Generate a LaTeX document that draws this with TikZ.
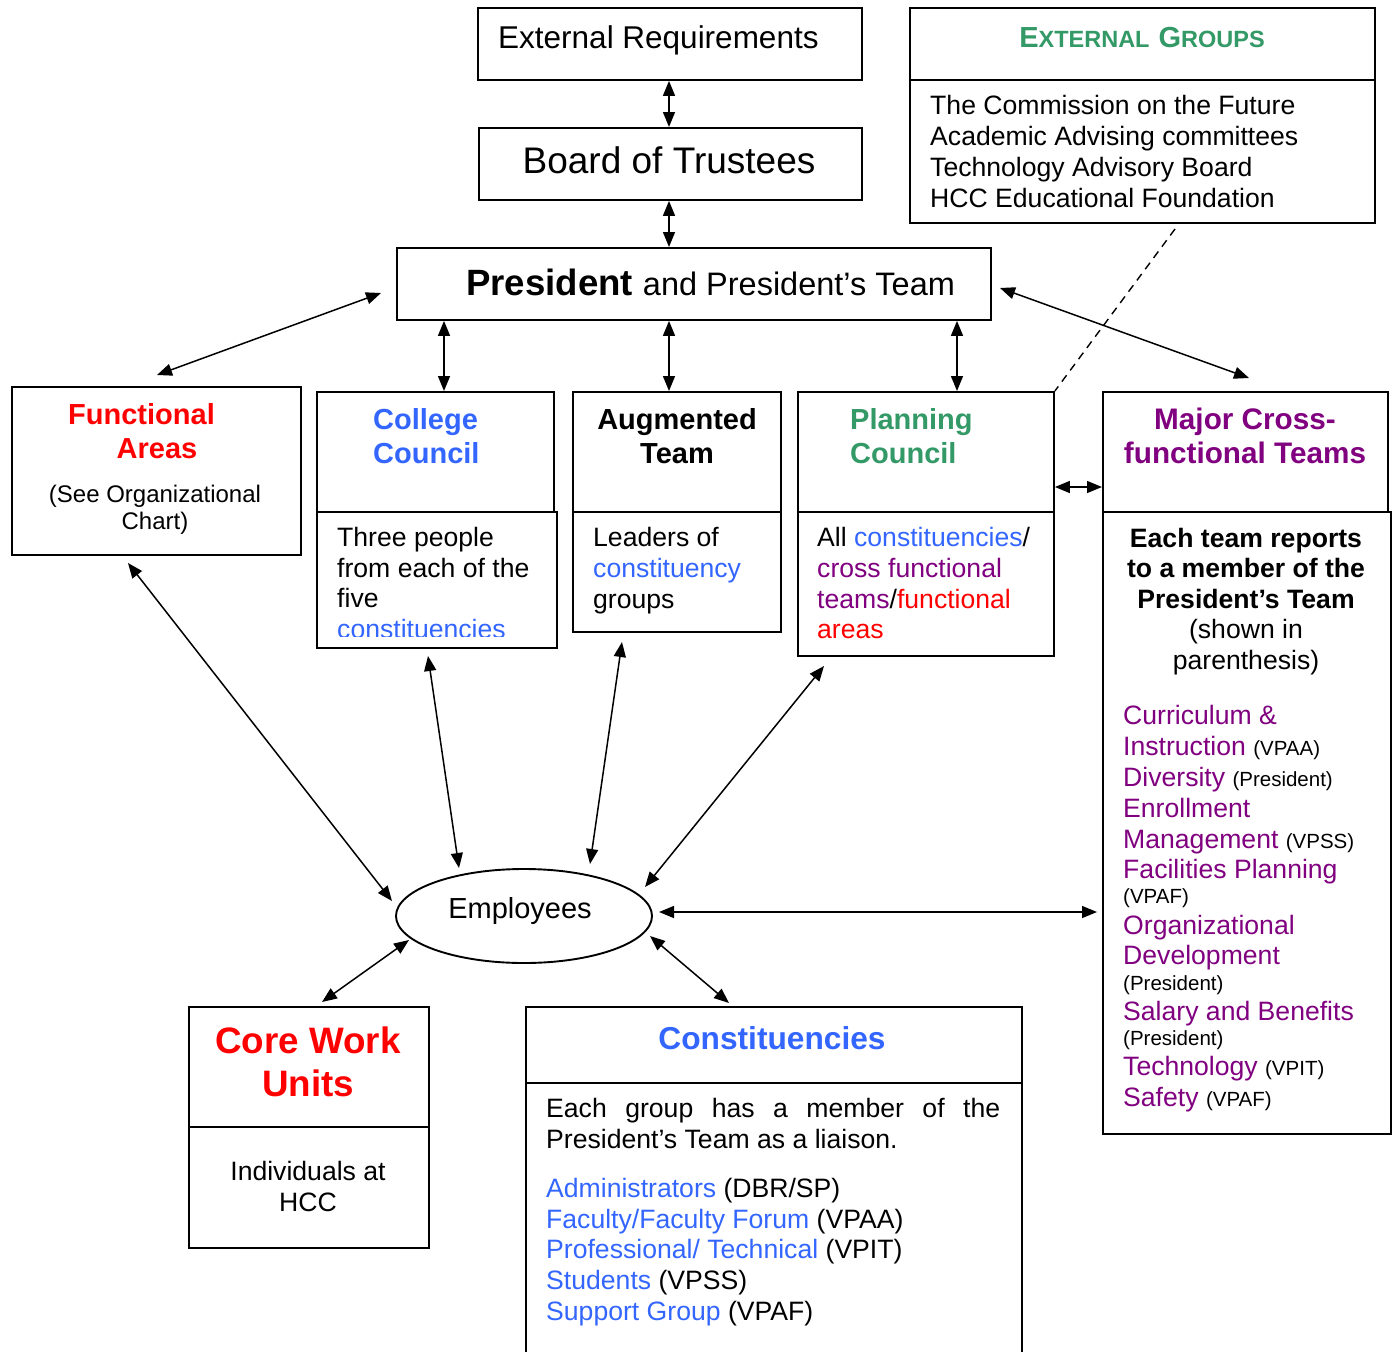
\documentclass[tikz,border=0pt]{standalone}
\usepackage{fontspec}
\setmainfont{Liberation Sans}
\usetikzlibrary{arrows.meta,shapes.geometric}
\definecolor{cred}{HTML}{FF0000}
\definecolor{cblue}{HTML}{3366FF}
\definecolor{cpurple}{HTML}{800080}
\definecolor{cgreen}{HTML}{339966}
\newcommand\fbody{\fontsize{26.6}{31}\selectfont}
\newcommand\fhead{\fontsize{29}{34}\selectfont\bfseries}
\newcommand\fsml{\fontsize{20.5}{24}\selectfont}
\newcommand\fsee{\fontsize{24}{27}\selectfont}
\begin{document}
\begin{tikzpicture}[x=1pt,y=-1pt,
  box/.style={draw, line width=1.9pt, inner sep=0pt, anchor=north west},
  conn/.style={{Triangle[length=15pt,width=12pt]}-{Triangle[length=15pt,width=12pt]}, line width=1.5pt},
  tl/.style={inner sep=0pt, anchor=base west, font=\fbody},
  tc/.style={inner sep=0pt, anchor=base, font=\fbody},
  hl/.style={inner sep=0pt, anchor=base west, font=\fhead},
  hc/.style={inner sep=0pt, anchor=base, font=\fhead}]
\useasboundingbox (0,0) rectangle (1393,1352);
\fill[white] (0,0) rectangle (1393,1352);
\begin{scope}
\clip (0,0) rectangle (1393,1352);
% ---------- boxes ----------
\node[box, minimum width=384pt, minimum height=72pt] (er) at (477,7) {};
\node[box, minimum width=383pt, minimum height=72pt] (bt) at (478,127) {};
\node[box, minimum width=594pt, minimum height=72pt] (pres) at (396,247) {};
\node[box, minimum width=465pt, minimum height=72pt] (egh) at (909,7) {};
\node[box, minimum width=465pt, minimum height=143pt] (egb) at (909,79) {};
\node[box, minimum width=289pt, minimum height=168pt] (fa) at (11,386) {};
\node[box, minimum width=237pt, minimum height=120pt] (cch) at (316,391) {};
\node[box, minimum width=240pt, minimum height=136pt] (ccb) at (316,511) {};
\node[box, minimum width=208pt, minimum height=120pt] (ath) at (572,391) {};
\node[box, minimum width=208pt, minimum height=120pt] (atb) at (572,511) {};
\node[box, minimum width=256pt, minimum height=120pt] (pch) at (797,391) {};
\node[box, minimum width=256pt, minimum height=144pt] (pcb) at (797,511) {};
\node[box, minimum width=285pt, minimum height=120pt] (mch) at (1102,391) {};
\node[box, minimum width=288pt, minimum height=622pt] (mcb) at (1102,511) {};
\node[box, minimum width=240pt, minimum height=120pt] (cwh) at (188,1006) {};
\node[box, minimum width=240pt, minimum height=121pt] (cwb) at (188,1126) {};
\node[box, minimum width=496pt, minimum height=76pt] (coh) at (525,1006) {};
\node[box, minimum width=496pt, minimum height=300pt] (cob) at (525,1082) {};
\node[draw, ellipse, line width=1.9pt, inner sep=0pt, minimum width=256pt, minimum height=94pt] (emp) at (524,916) {};
% ---------- texts ----------
\node[tl, font=\fontsize{31.5}{36}\selectfont] (ert) at (498,48) {External Requirements};
\node[tc, font=\fontsize{37}{42}\selectfont] (btt) at (669,173) {Board of Trustees};
\node[tl] (prt) at (466,295) {{\fontsize{36.6}{42}\selectfont\bfseries President}\hspace{10pt}{\fontsize{32.5}{37}\selectfont and President's Team}};
\node[tc, text=cgreen, font=\bfseries] (egt) at (1142,47) {{\fontsize{29}{34}\selectfont E}{\fontsize{23.5}{28}\selectfont XTERNAL}\hspace{9pt}{\fontsize{29}{34}\selectfont G}{\fontsize{23.5}{28}\selectfont ROUPS}};
\node[tl] (eg1) at (930,114.5) {The Commission on the Future};
\node[tl] (eg2) at (930,145.5) {Academic Advising committees};
\node[tl] (eg3) at (930,176.5) {Technology Advisory Board};
\node[tl] (eg4) at (930,207.5) {HCC Educational Foundation};
% functional areas
\node[hc, text=cred] (fa1) at (141.5,424) {Functional};
\node[hc, text=cred] (fa2) at (157,458) {Areas};
\node[tc, font=\fsee] (fa3) at (155,502.5) {(See Organizational};
\node[tc, font=\fsee] (fa4) at (155,529.5) {Chart)};
% college council
\node[hl, text=cblue] (cc1) at (373,429) {College};
\node[hl, text=cblue] (cc2) at (373,463) {Council};
\begin{scope}
\clip (316,511) rectangle (556,636.5);
\node[tl] (cc3) at (337,546.5) {Three people};
\node[tl] (cc4) at (337,577) {from each of the};
\node[tl] (cc5) at (337,607.5) {five};
\node[tl, text=cblue] (cc6) at (337,638.5) {constituencies};
\end{scope}
% augmented team
\node[hc] (at1) at (677,429) {Augmented};
\node[hc] (at2) at (677,463) {Team};
\node[tl] (at3) at (593,546.5) {Leaders of};
\node[tl, text=cblue] (at4) at (593,577.5) {constituency};
\node[tl] (at5) at (593,608.5) {groups};
% planning council
\node[hl, text=cgreen] (pc1) at (850,429) {Planning};
\node[hl, text=cgreen] (pc2) at (850,463) {Council};
\node[tl] (pc3) at (817,546.5) {All \textcolor{cblue}{constituencies}/};
\node[tl, text=cpurple] (pc4) at (817,577.5) {cross functional};
\node[tl] (pc5) at (817,608.5) {\textcolor{cpurple}{teams}/\textcolor{cred}{functional}};
\node[tl, text=cred] (pc6) at (817,638.5) {areas};
% major cross-functional teams
\node[hc, text=cpurple, font=\fontsize{29.7}{34}\selectfont\bfseries] (mc1) at (1245,429) {Major Cross-};
\node[hc, text=cpurple, font=\fontsize{29.7}{34}\selectfont\bfseries] (mc2) at (1245,463) {functional Teams};
\node[tc, font=\fbody\bfseries] (mc3) at (1246,547) {Each team reports};
\node[tc, font=\fbody\bfseries] (mc4) at (1246,577.5) {to a member of the};
\node[tc, font=\fbody\bfseries] (mc5) at (1246,608.5) {President's Team};
\node[tc] (mc6) at (1246,638.5) {(shown in};
\node[tc] (mc7) at (1246,669.5) {parenthesis)};
\node[tl, text=cpurple] (ml1) at (1123,724.5) {Curriculum \&};
\node[tl, text=cpurple] (ml2) at (1123,755.5) {Instruction \textcolor{black}{\fsml(VPAA)}};
\node[tl, text=cpurple] (ml3) at (1123,786.5) {Diversity \textcolor{black}{\fsml(President)}};
\node[tl, text=cpurple] (ml4) at (1123,817.5) {Enrollment};
\node[tl, text=cpurple] (ml5) at (1123,848.5) {Management \textcolor{black}{\fsml(VPSS)}};
\node[tl, text=cpurple] (ml6) at (1123,878.5) {Facilities Planning};
\node[tl, font=\fsml] (ml7) at (1123,903) {(VPAF)};
\node[tl, text=cpurple] (ml8) at (1123,934.5) {Organizational};
\node[tl, text=cpurple] (ml9) at (1123,964.5) {Development};
\node[tl, font=\fsml] (ml10) at (1123,990) {(President)};
\node[tl, text=cpurple] (ml11) at (1123,1020.5) {Salary and Benefits};
\node[tl, font=\fsml] (ml12) at (1123,1045.5) {(President)};
\node[tl, text=cpurple] (ml13) at (1123,1075.5) {Technology \textcolor{black}{\fsml(VPIT)}};
\node[tl, text=cpurple] (ml14) at (1123,1106.5) {Safety \textcolor{black}{\fsml(VPAF)}};
% employees
\node[tc, font=\fontsize{29}{34}\selectfont] (empt) at (520,918.5) {Employees};
% core work units
\node[tc, text=cred, font=\fontsize{36.8}{42}\selectfont\bfseries] (cw1) at (308,1053) {Core Work};
\node[tc, text=cred, font=\fontsize{36.8}{42}\selectfont\bfseries] (cw2) at (308,1096) {Units};
\node[tc] (cw3) at (308,1180.5) {Individuals at};
\node[tc] (cw4) at (308,1211.5) {HCC};
% constituencies
\node[tc, text=cblue, font=\fontsize{31.7}{37}\selectfont\bfseries] (co1) at (772,1049) {Constituencies};
\node[tl] (co2) at (546,1117.5) {\makebox[454pt][s]{Each group has a member of the}};
\node[tl] (co3) at (546,1148.5) {President's Team as a liaison.};
\node[tl] (co4) at (546,1197.5) {\textcolor{cblue}{Administrators} (DBR/SP)};
\node[tl] (co5) at (546,1228.5) {\textcolor{cblue}{Faculty/Faculty Forum} (VPAA)};
\node[tl] (co6) at (546,1258.5) {\textcolor{cblue}{Professional/ Technical} (VPIT)};
\node[tl] (co7) at (546,1289.5) {\textcolor{cblue}{Students} (VPSS)};
\node[tl] (co8) at (546,1320.5) {\textcolor{cblue}{Support Group} (VPAF)};
% ---------- connectors ----------
\draw[conn] (669,0 |- er.south) -- (669,0 |- bt.north);
\draw[conn] (669,0 |- bt.south) -- (669,0 |- pres.north);
\draw[conn] (444,0 |- pres.south) -- (444,0 |- cch.north);
\draw[conn] (669,0 |- pres.south) -- (669,0 |- ath.north);
\draw[conn] (957,0 |- pres.south) -- (957,0 |- pch.north);
\draw[conn] (pch.east |- 0,487) -- (mch.west |- 0,487);
\coordinate (pL) at (381,293);
\coordinate (faT) at (157,375);
\coordinate (pR) at (1000,288);
\coordinate (mcT) at (1249,378);
\draw[conn] (pL) -- (faT);
\draw[conn] (pR) -- (mcT);
\coordinate (faB) at (128,563);
\coordinate (eFA) at (392,901);
\coordinate (ccB) at (428,656);
\coordinate (eCC) at (459,868);
\coordinate (atB) at (622,642);
\coordinate (eAT) at (590,864);
\coordinate (pcB) at (824,666);
\coordinate (ePC) at (645,887);
\coordinate (eMC) at (659,912);
\coordinate (mcL) at (1097,912);
\coordinate (eCW) at (409,940);
\coordinate (cwT) at (322,1002);
\coordinate (eCO) at (650,936);
\coordinate (coT) at (729,1003);
\draw[conn] (faB) -- (eFA);
\draw[conn] (ccB) -- (eCC);
\draw[conn] (atB) -- (eAT);
\draw[conn] (pcB) -- (ePC);
\draw[conn] (eMC) -- (mcL);
\draw[conn] (eCW) -- (cwT);
\draw[conn] (eCO) -- (coT);
\coordinate (egD) at (1175,229);
\draw[line width=1.4pt, dash pattern=on 8pt off 6pt] (egD) -- (pch.north east);
\end{scope}
\end{tikzpicture}
\end{document}
